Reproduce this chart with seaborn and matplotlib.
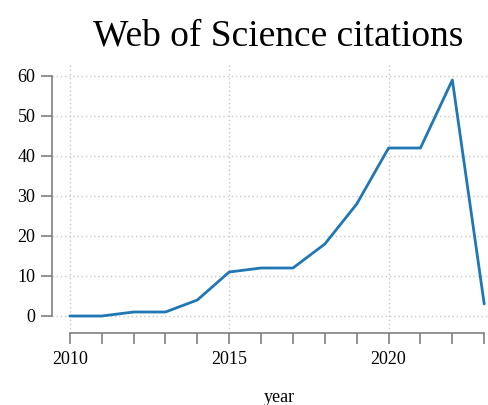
import numpy as np
import pandas as pd
import matplotlib
matplotlib.use("Agg")
import matplotlib.pyplot as plt
from matplotlib.ticker import MultipleLocator
import seaborn as sns

years = [2010, 2011, 2012, 2013, 2014, 2015, 2016, 2017, 2018, 2019, 2020, 2021, 2022, 2023]
citations = [0, 0, 1, 1, 4, 11, 12, 12, 18, 28, 42, 42, 59, 3]

df = pd.DataFrame({"year": years, "citations": citations})

sns.set_style("white")
plt.rcParams["font.family"] = ["Liberation Serif", "DejaVu Serif"]
plt.rcParams["text.color"] = "black"
plt.rcParams["axes.labelcolor"] = "black"

fig = plt.figure(figsize=(4.89, 4.05), dpi=100)
ax = fig.add_axes([52/489, 1 - 333/405, 1 - 52/489, (333 - 62)/405])

sns.lineplot(data=df, x="year", y="citations", ax=ax, color="#1f77b4", linewidth=2)

ax.set_xlim(2009.44, 2023.15)
ax.set_ylim(-4.25, 63.5)
ax.xaxis.set_major_locator(MultipleLocator(5))
ax.xaxis.set_minor_locator(MultipleLocator(1))
ax.yaxis.set_major_locator(MultipleLocator(10))

ax.grid(True, which="major", linestyle=(0, (1, 2)), color="#c8c8c8", linewidth=1)

for side in ["top", "right"]:
    ax.spines[side].set_visible(False)
for side in ["left", "bottom"]:
    ax.spines[side].set_color("#808080")
    ax.spines[side].set_linewidth(1.2)
ax.spines["bottom"].set_bounds(2010, 2023)
ax.spines["left"].set_bounds(0, 60)

ax.tick_params(axis="both", which="both", direction="out", color="#808080",
               width=1.2, length=8, labelsize=13, labelcolor="black")
ax.tick_params(axis="x", which="both", bottom=True, pad=5)
ax.tick_params(axis="y", which="both", left=True, pad=4)

ax.set_xlabel("year", fontsize=13, labelpad=15, x=0.52)
ax.set_ylabel("")
ax.set_title("Web of Science citations", fontsize=27, pad=12, color="black", x=0.517)

fig.savefig("out.png", dpi=100)
